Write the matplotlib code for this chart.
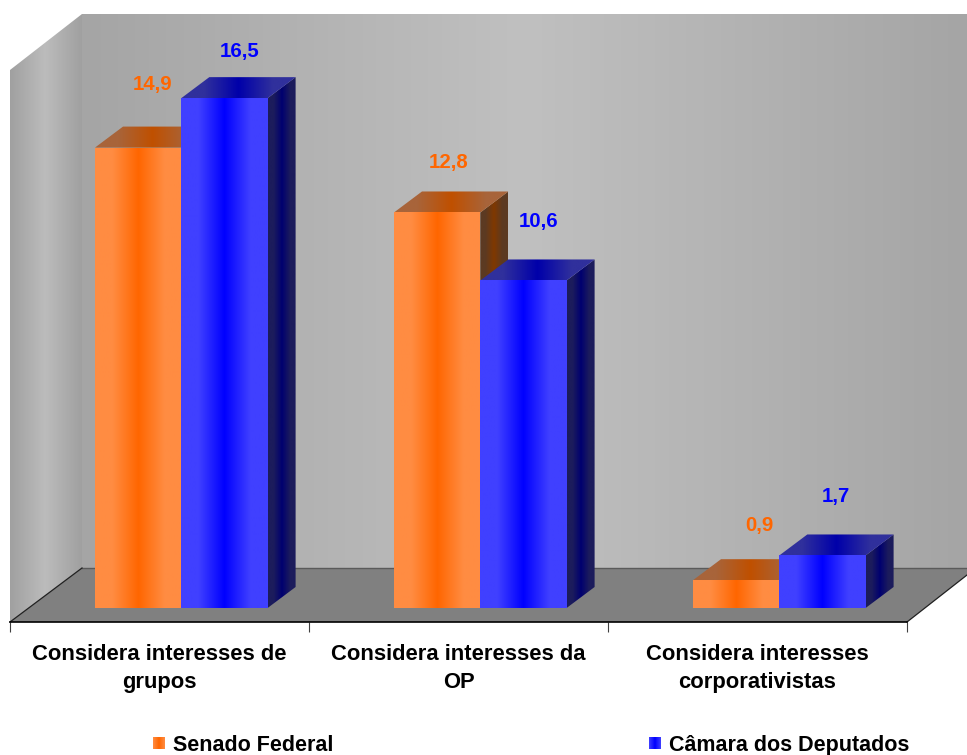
import numpy as np
import matplotlib
matplotlib.use('Agg')
import matplotlib.pyplot as plt
from matplotlib.colors import LinearSegmentedColormap
from matplotlib.legend_handler import HandlerBase
from matplotlib.patches import Polygon, Rectangle

categories = ['Considera interesses de\ngrupos', 'Considera interesses da\nOP', 'Considera interesses\ncorporativistas']
series_names = ['Senado Federal', 'Câmara dos Deputados']
senado = [14.9, 12.8, 0.9]
camara = [16.5, 10.6, 1.7]
senado_labels = ['14,9', '12,8', '0,9']
camara_labels = ['16,5', '10,6', '1,7']

W, H = 967, 755
FONT = 'Liberation Sans'
plt.rcParams['font.family'] = FONT
PX_PER_UNIT = 30.9  # pixels per value unit
PX_PER_CAT = 299
BAR_OFFSET = 85 / PX_PER_CAT
BAR_W = 86.3 / PX_PER_CAT
DX = 28 / PX_PER_CAT
DY = 21 / PX_PER_UNIT

ORANGE = {'front': ('#ff8c42', '#ff6600'), 'top': ('#a8643a', '#c05000'), 'side': ('#5c3a22', '#803800')}
BLUE = {'front': ('#4040ff', '#0000ff'), 'top': ('#30309c', '#0000aa'), 'side': ('#1c1c5c', '#000070')}
# label offsets from bar centre / top, in pixels
senado_off = [(14, 63), (11, 50), (23, 55)]
camara_off = [(15, 47), (15, 59), (13, 59)]


def fill_gradient(ax, points, edge, centre, center_x=None, plateau=0.0, zorder=2):
    # horizontal edge-centre-edge gradient clipped to a polygon
    pts = np.array(points)
    x0, x1 = pts[:, 0].min(), pts[:, 0].max()
    y0, y1 = pts[:, 1].min(), pts[:, 1].max()
    mid = 0.5 if center_x is None else (center_x - x0) / (x1 - x0)
    stops = [(0, edge), (mid, centre), (1, edge)]
    if plateau > 0:
        stops = [(0, edge), (plateau, edge), (mid, centre), (1 - plateau, edge), (1, edge)]
    cmap = LinearSegmentedColormap.from_list('g', stops)
    img = ax.imshow(np.linspace(0, 1, 256).reshape(1, -1), cmap=cmap, vmin=0, vmax=1, extent=(x0, x1, y0, y1),
                    aspect='auto', interpolation='bilinear', zorder=zorder, origin='lower')
    clip = Polygon(points, closed=True, transform=ax.transData, facecolor='none', edgecolor='none')
    ax.add_patch(clip)
    img.set_clip_path(clip)


def draw_bar(ax, x, v, colors):
    fill_gradient(ax, [(x + BAR_W, 0), (x + BAR_W + DX, DY), (x + BAR_W + DX, v + DY), (x + BAR_W, v)], *colors['side'], plateau=0.2)
    fill_gradient(ax, [(x, v), (x + DX, v + DY), (x + BAR_W + DX, v + DY), (x + BAR_W, v)], *colors['top'], plateau=0.2)
    fill_gradient(ax, [(x, 0), (x + BAR_W, 0), (x + BAR_W, v), (x, v)], *colors['front'], plateau=0.2)


class SwatchHandler(HandlerBase):
    def __init__(self, colors):
        super().__init__()
        self.colors = colors

    def create_artists(self, legend, orig, xd, yd, width, height, fontsize, trans):
        edge = np.array(matplotlib.colors.to_rgb(self.colors[0]))
        centre = np.array(matplotlib.colors.to_rgb(self.colors[1]))
        out = []
        n = 12
        for k in range(n):
            t = abs((k + 0.5) / n - 0.5) * 2
            out.append(Rectangle((-xd + width * k / n, -yd + height / 2 - width / 2), width / n * 1.05, width,
                                 facecolor=centre + (edge - centre) * t, edgecolor='none', transform=trans))
        return out


fig = plt.figure(figsize=(W / 100, H / 100), dpi=100)

# 3D room behind the bars, in pixel coordinates
bg = fig.add_axes([0, 0, 1, 1])
fill_gradient(bg, [(82, 14), (967, 14), (967, 568), (82, 568)], '#a5a5a5', '#c0c0c0', center_x=524, zorder=1)
fill_gradient(bg, [(10, 70), (82, 14), (82, 568), (10, 622)], '#a0a0a0', '#bcbcbc', center_x=45, zorder=1)
bg.add_patch(Polygon([(10, 622), (82, 568), (967, 568), (967, 575), (907, 622)], facecolor='#808080',
                     edgecolor='none', zorder=1.5))
bg.plot([82, 967], [568, 568], color='#5a5a5a', lw=1, zorder=1.6)
bg.plot([10, 82], [622, 568], color='#202020', lw=0.9, zorder=1.6)
bg.plot([907, 967], [622, 575], color='#202020', lw=0.9, zorder=1.6)
bg.set_xlim(0, W)
bg.set_ylim(H, 0)
bg.axis('off')

# chart axes: x is one unit per category, y is in value units
ax = fig.add_axes([10 / W, (H - 622) / H, (907 - 10) / W, (622 - 14) / H])
ax.patch.set_alpha(0)
for i in range(3):
    x = i + BAR_OFFSET
    draw_bar(ax, x, senado[i], ORANGE)
    draw_bar(ax, x + BAR_W, camara[i], BLUE)
    ax.annotate(senado_labels[i], (x + BAR_W / 2, senado[i]), xytext=(senado_off[i][0] * 0.72, senado_off[i][1] * 0.72),
                textcoords='offset points', ha='center', va='center', color='#ff6600', fontsize=14.7, fontweight='bold')
    ax.annotate(camara_labels[i], (x + BAR_W * 1.5, camara[i]), xytext=(camara_off[i][0] * 0.72, camara_off[i][1] * 0.72),
                textcoords='offset points', ha='center', va='center', color='#0000ff', fontsize=14.7, fontweight='bold')

ax.set_xlim(0, 3)
ax.set_ylim(-(622 - 608) / PX_PER_UNIT, (608 - 14) / PX_PER_UNIT)
for s in ['top', 'left', 'right']:
    ax.spines[s].set_visible(False)
ax.spines['bottom'].set_linewidth(1.2)
ax.set_yticks([])
ax.set_xticks([0, 1, 2, 3])
ax.set_xticklabels([])
ax.tick_params(axis='x', which='major', length=7.2, width=0.8, color='#404040')
ax.set_xticks([0.5, 1.5, 2.5], minor=True)
ax.set_xticklabels(categories, minor=True, fontsize=15.8, fontweight='bold', linespacing=1.48)
ax.tick_params(axis='x', which='minor', length=0, pad=15.5)

h1 = Rectangle((0, 0), 1, 1)
h2 = Rectangle((0, 0), 1, 1)
leg = fig.legend([h1, h2], series_names, handler_map={h1: SwatchHandler(ORANGE['front']), h2: SwatchHandler(BLUE['front'])},
                 ncols=2, frameon=False, loc='lower left', bbox_to_anchor=(153 / W, -1 / H), borderpad=0, borderaxespad=0,
                 handlelength=0.56, handletextpad=0.37, columnspacing=14.65,
                 prop={'family': FONT, 'weight': 'bold', 'size': 15.5})

fig.savefig('out.png', dpi=100)
